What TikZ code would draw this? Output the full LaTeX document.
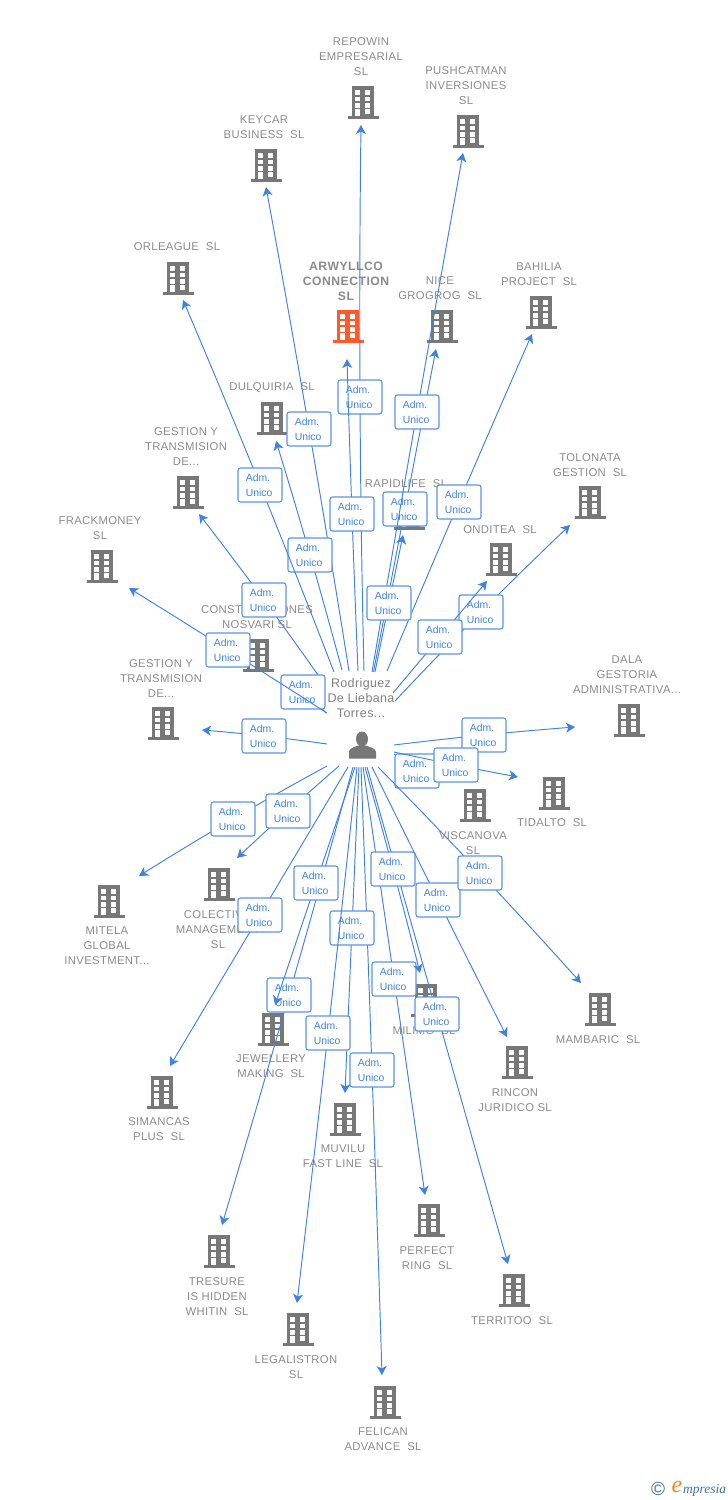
\documentclass[tikz,border=0pt]{standalone}
\usepackage{fontspec}
\setmainfont{Liberation Sans}
\newfontfamily\logofont{Liberation Serif}
\usetikzlibrary{arrows.meta,calc,shapes.geometric}
\definecolor{edgeblue}{HTML}{3F82E2}
\definecolor{badgeblue}{HTML}{5A94E6}
\definecolor{badgetext}{HTML}{3F82E2}
\definecolor{bldgrey}{HTML}{777777}
\definecolor{bldorange}{HTML}{FF5A2B}
\definecolor{labelgrey}{HTML}{8A8A8A}
\definecolor{persongrey}{HTML}{808080}
\definecolor{logoblue}{HTML}{3F7396}
\definecolor{logoorange}{HTML}{F5841F}
\tikzset{
  edgeline/.style={draw=edgeblue,line width=0.95pt,-{Stealth[length=9pt,width=10pt,inset=2.5pt]}},
  badgebox/.style={draw=badgeblue,fill=white,line width=1.1pt,rounded corners=2.5pt,minimum width=44pt,minimum height=34pt,inner sep=0pt},
  badgetxt/.style={text=badgetext,font=\fontsize{10.4}{15}\selectfont,align=left,anchor=west,inner sep=0pt},
  lbl/.style={text=labelgrey,yshift=-0.8pt,font=\fontsize{11.3}{15}\selectfont\addfontfeature{LetterSpace=3},align=center,inner sep=0pt},
  lblbold/.style={lbl,font=\fontsize{12.2}{15}\bfseries\selectfont\addfontfeature{LetterSpace=4}},
  personlbl/.style={text=persongrey,font=\fontsize{12.5}{15}\selectfont\addfontfeature{LetterSpace=3},align=center,inner sep=0pt},
  bldbody/.style={inner sep=0pt,minimum width=22.5pt,minimum height=31pt}
}
\newcommand\bld[4]{%
  \begin{scope}[shift={(#2,#3)}]
    \node[bldbody,fill=#4] (#1) at (0,-0.5) {};
    \fill[#4] (-15.5,14) rectangle (15.5,17);
    \foreach \wy in {-12,-5.3,1.3} {
      \fill[white] (-8.2,\wy) rectangle (-2.8,\wy+4.7);
      \fill[white] (1.8,\wy) rectangle (7.2,\wy+4.7);
    }
    \fill[white] (-8.2,7.3) rectangle (-2.8,14);
    \fill[white] (1.8,7.3) rectangle (7.2,12);
  \end{scope}}
\begin{document}
\begin{tikzpicture}[x=1pt,y=-1pt]
\useasboundingbox (0,0) rectangle (728,1500);
% companies
\bld{repowin}{363}{102}{bldgrey}
\bld{pushcatman}{468}{131}{bldgrey}
\bld{keycar}{266}{165}{bldgrey}
\bld{orleague}{178}{278}{bldgrey}
\bld{arwyllco}{348}{326}{bldorange}
\bld{nice}{442}{326}{bldgrey}
\bld{bahilia}{541}{312}{bldgrey}
\bld{dulquiria}{272}{418}{bldgrey}
\bld{gestiontop}{188}{492}{bldgrey}
\bld{rapidlife}{409}{513}{bldgrey}
\bld{tolonata}{590}{502}{bldgrey}
\bld{onditea}{501}{559}{bldgrey}
\bld{frackmoney}{102}{566}{bldgrey}
\bld{construcciones}{258}{655}{bldgrey}
\bld{gestionlow}{163}{723}{bldgrey}
\bld{dala}{629}{720}{bldgrey}
\bld{tidalto}{554}{793}{bldgrey}
\bld{viscanova}{475}{805}{bldgrey}
\bld{mitela}{109}{901}{bldgrey}
\bld{colecti}{219}{884}{bldgrey}
\bld{jewellery}{273}{1029}{bldgrey}
\bld{milim}{426}{1000}{bldgrey}
\bld{simancas}{162}{1092}{bldgrey}
\bld{muvilu}{345}{1119}{bldgrey}
\bld{rincon}{517}{1062}{bldgrey}
\bld{mambaric}{600}{1009}{bldgrey}
\bld{perfect}{429}{1220}{bldgrey}
\bld{territoo}{514}{1290}{bldgrey}
\bld{tresure}{219}{1251}{bldgrey}
\bld{legalistron}{298}{1329}{bldgrey}
\bld{felican}{385}{1402}{bldgrey}
% labels
\node[lbl] (lrepowin) at (361,56) {REPOWIN\\EMPRESARIAL\\SL};
\node[lbl] (lpushcatman) at (466,85) {PUSHCATMAN\\INVERSIONES\\SL};
\node[lbl] (lkeycar) at (264,126.5) {KEYCAR\\BUSINESS~~SL};
\node[lbl] (lorleague) at (177,246) {ORLEAGUE~~SL};
\node[lblbold] (larwyllco) at (346,280) {ARWYLLCO\\CONNECTION\\SL};
\node[lbl] (lnice) at (440,287.5) {NICE\\GROGROG~~SL};
\node[lbl] (lbahilia) at (539,273.5) {BAHILIA\\PROJECT~~SL};
\node[lbl] (ldulquiria) at (272,387) {DULQUIRIA~~SL};
\node[lbl] (lgestiontop) at (186,446) {GESTION Y\\TRANSMISION\\DE...};
\node[lbl] (lrapidlife) at (406,483) {RAPIDLIFE~~SL};
\node[lbl] (ltolonata) at (590,464.5) {TOLONATA\\GESTION~~SL};
\node[lbl] (londitea) at (500,529) {ONDITEA~~SL};
\node[lbl] (lfrackmoney) at (100,527.5) {FRACKMONEY\\SL};
\node[lbl] (lconstrucciones) at (257,616.5) {CONSTRUCCIONES\\NOSVARI SL};
\node[lbl] (lgestionlow) at (161,678) {GESTION Y\\TRANSMISION\\DE...};
\node[lbl] (ldala) at (627,674) {DALA\\GESTORIA\\ADMINISTRATIVA...};
\node[lbl] (ltidalto) at (552,822) {TIDALTO~~SL};
\node[lbl] (lviscanova) at (473,842.5) {VISCANOVA\\SL};
\node[lbl] (lmitela) at (107,945) {MITELA\\GLOBAL\\INVESTMENT...};
\node[lbl] (lcolecti) at (218,929) {COLECTIVO\\MANAGEMENT\\SL};
\node[lbl] (ljewellery) at (271,1065.5) {JEWELLERY\\MAKING~~SL};
\node[lbl] (lmilim) at (424,1030) {MILIMO~~SL};
\node[lbl] (lsimancas) at (159,1128.5) {SIMANCAS\\PLUS~~SL};
\node[lbl] (lmuvilu) at (343,1155.5) {MUVILU\\FAST LINE~~SL};
\node[lbl] (lrincon) at (515,1099.5) {RINCON\\JURIDICO SL};
\node[lbl] (lmambaric) at (598,1039) {MAMBARIC~~SL};
\node[lbl] (lperfect) at (427,1257.5) {PERFECT\\RING~~SL};
\node[lbl] (lterritoo) at (512,1320) {TERRITOO~~SL};
\node[lbl] (ltresure) at (217,1296) {TRESURE\\IS HIDDEN\\WHITIN~~SL};
\node[lbl] (llegalistron) at (296,1366.5) {LEGALISTRON\\SL};
\node[lbl] (lfelican) at (383,1438.5) {FELICAN\\ADVANCE~~SL};
% person
\node[personlbl] (person) at (361,698) {Rodriguez\\De Liebana\\Torres...};
\node[fill=bldgrey,ellipse,inner sep=0pt,minimum width=12pt,minimum height=15pt] (personhead) at (362,739) {};
\fill[bldgrey] (349,758.5) -- (349,752) .. controls (349,748.5) and (353,747.5) .. (358,745.5) -- (366,745.5) .. controls (371,747.5) and (376,748.5) .. (376,752) -- (376,758.5) -- cycle;
% edges with their badges
\foreach \n/\sx/\sy/\tx/\ty/\bx/\by in {
  keycar/349/671/266/187/309/429,
  repowin/364/671/361/125/360/397,
  arwyllco/358/671/347/359/352/514,
  nice/373.5/672/436/349/405/509,
  pushcatman/372/672/463/153/417/412,
  bahilia/387/671/532/334/459/502,
  dulquiria/342/670/276/441/310/555,
  orleague/334/672/183/300/260/485,
  rapidlife/375/672/403/535/389/603,
  gestiontop/318/675/199/514/264/600,
  construcciones/326/713/284/682/303/692,
  frackmoney/327/713/129/588/228/650,
  gestionlow/327/744/202/730/264/736,
  tolonata/395/701/570/525/481/612,
  onditea/393/693/487/581/440/637,
  dala/394/745/575/727/484/735,
  viscanova/394/754/436/783/417/771,
  tidalto/394/752/518/777/456/765,
  mitela/327/766/139/876/233/819,
  colecti/339/766/237/858/288/811,
  simancas/348/767/170/1066/260/915,
  tresure/353/767/222/1225/289/995,
  jewellery/355/767/275/1005/316/883,
  felican/361/767/382/1375/372/1070,
  muvilu/359/767/345/1093/352/928,
  legalistron/357/767/297/1303/328/1033,
  perfect/363/767/425/1195/394/979,
  territoo/367/767/508/1264/437/1014,
  milim/365/767/420/973/393/869,
  rincon/372/767/507/1037/438/900,
  mambaric/378/767/581/983/480/873%
}{
  \coordinate (s\n) at (\sx,\sy);
  \coordinate (t\n) at (\tx,\ty);
  \coordinate (m\n) at (\bx,\by);
  \draw[edgeline] (s\n) .. controls ($(m\n)!-0.3333!(t\n)$) and ($(m\n)!-0.3333!(s\n)$) .. (t\n);
  \node[badgebox] (b\n) at (m\n) {};
  \node[badgetxt] (a\n) at ($(b\n.west)+(8.2,-7.2)$) {Adm.};
  \node[badgetxt] (u\n) at ($(b\n.west)+(8.2,7.8)$) {Unico};
}
% logo
\node[text=logoblue,inner sep=0pt,font=\fontsize{19}{19}\selectfont] (copyr) at (658,1489) {©};
\node[text=logoorange,inner sep=0pt,font=\logofont\itshape\fontsize{24}{24}\selectfont] (logoe) at (677,1487) {e};
\node[text=logoblue,inner sep=0pt,anchor=west,font=\logofont\itshape\fontsize{13.5}{14}\selectfont] (logotxt) at (683,1490) {mpresia};
\end{tikzpicture}
\end{document}
